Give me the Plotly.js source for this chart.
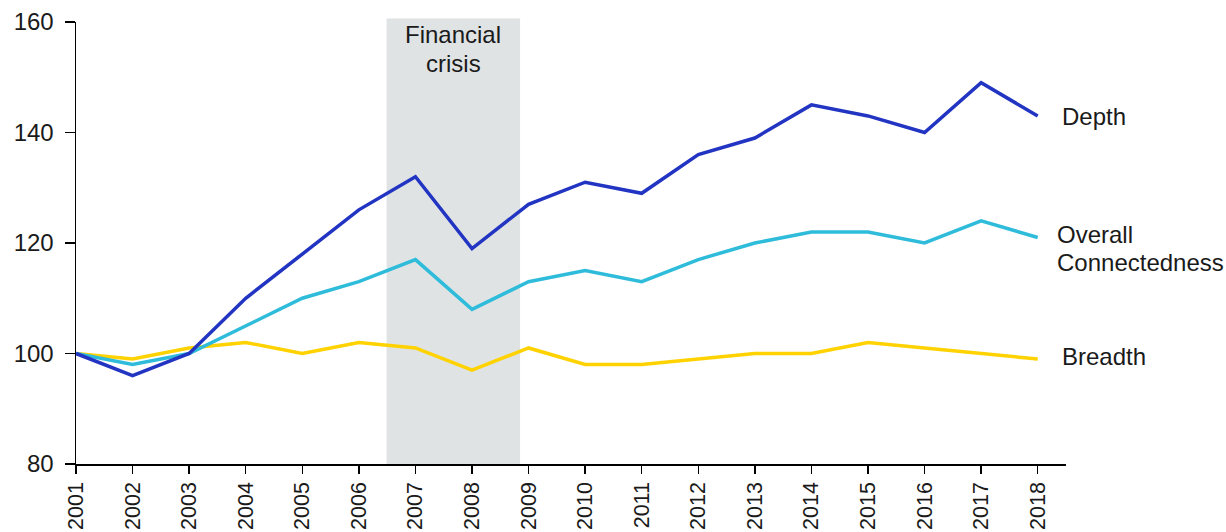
<!DOCTYPE html>
<html><head><meta charset="utf-8">
<script src="https://cdn.plot.ly/plotly-3.0.1.min.js"></script>
<style>html,body{margin:0;padding:0;background:#fff}#chart{width:1226px;height:532px}</style>
</head><body><div id="chart"></div>
<script>
var years = [2001,2002,2003,2004,2005,2006,2007,2008,2009,2010,2011,2012,2013,2014,2015,2016,2017,2018];
var depth = [100,96,100,110,118,126,132,119,127,131,129,136,139,145,143,140,149,143];
var overall = [100,98,100,105,110,113,117,108,113,115,113,117,120,122,122,120,124,121];
var breadth = [100,99,101,102,100,102,101,97,101,98,98,99,100,100,102,101,100,99];
var crisisStart = 2006.49, crisisEnd = 2008.85;
var crisisLabel = ['Financial','crisis'];
var seriesNames = ['Breadth','Overall Connectedness','Depth'];

var FONT = 'Liberation Sans, Arial, sans-serif';
var TF = {family:FONT, size:24, color:'#1a1a1a'};
var XF = {family:FONT, size:21.5, color:'#1a1a1a'};
function tr(y, color, name){
  return {x: years, y: y, type:'scatter', mode:'lines', name:name,
    line:{color:color, width:3.5}, hoverinfo:'skip', cliponaxis:false};
}
var data = [
  tr(breadth,'#ffd200',seriesNames[0]),
  tr(overall,'#2fbcdb',seriesNames[1]),
  tr(depth,'#2234c2',seriesNames[2])
];
function lab(text, x, yref, y){
  return {xref:x.ref, yref:yref, x:x.v, y:y, xanchor:x.anchor, yanchor:'middle', align:'left',
    text:text, showarrow:false, font:TF};
}
var ovParts = seriesNames[1].split(' ');
var cx = (crisisStart+crisisEnd)/2;
var layout = {
  width:1226, height:532,
  margin:{l:75.5, r:160, t:22, b:68},
  paper_bgcolor:'#fff', plot_bgcolor:'rgba(0,0,0,0)',
  showlegend:false,
  font:TF,
  xaxis:{range:[2001,2018.5], tickvals:years, ticktext:years.map(String), tickangle:-90,
    showgrid:false, zeroline:false, showline:true, linecolor:'#000', linewidth:1.5,
    ticks:'outside', ticklen:8, tickwidth:1.5, tickcolor:'#000', ticklabelstandoff:0,
    tickfont:XF, fixedrange:true},
  yaxis:{range:[80,160], tickvals:[80,100,120,140,160], showgrid:false, zeroline:false,
    showline:true, linecolor:'#000', linewidth:1.5, ticks:'outside', ticklen:10, tickwidth:1.5, tickcolor:'#000',
    ticklabelstandoff:6, tickfont:TF, fixedrange:true},
  shapes:[{type:'rect', xref:'x', yref:'paper', x0:crisisStart, x1:crisisEnd, y0:0, y1:1.008,
    fillcolor:'#e0e3e4', line:{width:0}, layer:'below'}],
  annotations:[
    {xref:'x', yref:'paper', x:cx, y:0.9706, xanchor:'center', yanchor:'middle', text:crisisLabel[0], showarrow:false, font:TF},
    {xref:'x', yref:'paper', x:cx, y:0.9063, xanchor:'center', yanchor:'middle', text:crisisLabel[1], showarrow:false, font:TF},
    lab(seriesNames[2], {ref:'paper', v:0.994, anchor:'left'}, 'y', 142.9),
    lab(ovParts[0], {ref:'paper', v:0.989, anchor:'left'}, 'y', 121.6),
    lab(ovParts[1], {ref:'paper', v:0.989, anchor:'left'}, 'y', 116.5),
    lab(seriesNames[0], {ref:'paper', v:0.994, anchor:'left'}, 'y', 99.4)
  ]
};
Plotly.newPlot('chart', data, layout, {displayModeBar:false, staticPlot:true});
</script></body></html>
